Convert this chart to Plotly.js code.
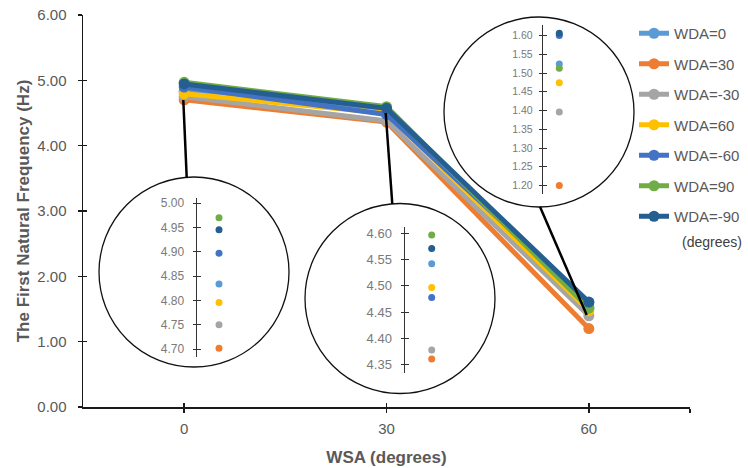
<!DOCTYPE html>
<html>
<head>
<meta charset="utf-8">
<script src="https://cdn.plot.ly/plotly-3.0.1.min.js"></script>
<style>html,body{margin:0;padding:0;background:#fff;}#chart{width:748px;height:468px;}</style>
</head>
<body>
<div id="chart"></div>
<script>
// ---- data ----
const wsa = [0, 30, 60];
const seriesNames = ['WDA=0', 'WDA=30', 'WDA=-30', 'WDA=60', 'WDA=-60', 'WDA=90', 'WDA=-90'];
const wda0   = [4.834, 4.542, 1.524];
const wda30  = [4.702, 4.361, 1.200];
const wdaM30 = [4.750, 4.378, 1.396];
const wda60  = [4.796, 4.497, 1.474];
const wdaM60 = [4.897, 4.478, 1.600];
const wda90  = [4.970, 4.597, 1.513];
const wdaM90 = [4.945, 4.571, 1.606];
const seriesValues = [wda0, wda30, wdaM30, wda60, wdaM60, wda90, wdaM90];
const colors = ['#5B9BD5', '#ED7D31', '#A5A5A5', '#FFC000', '#4472C4', '#70AD47', '#255E91'];
const xTickVals = [0, 30, 60, 75];
const xTickText = ['0', '30', '60', ''];

// ---- geometry helpers (pixel -> paper) ----
const L = 83, R = 690, T = 15, B = 407;
const W = R - L, H = B - T;
const px = p => (p - L) / W;
const py = p => (B - p) / H;

const FONT = 'Liberation Sans, Arial, Helvetica, sans-serif';
const GREY = '#595959';

const traces = [];
seriesNames.forEach((name, i) => {
  traces.push({
    type: 'scatter', mode: 'lines+markers', name: name,
    x: wsa, y: seriesValues[i], xaxis: 'x', yaxis: 'y',
    line: {color: colors[i], width: 5},
    marker: {color: colors[i], size: 11},
    legendgroup: 'g' + i
  });
});

// insets: one per WSA category
const insets = [
  {idx: 0, axisX: 197, dotsX: 241, top: 198, bottom: 357, range: [4.684, 5.0103], t0: 4.70, fs: 12, stand: 6},
  {idx: 1, axisX: 405, dotsX: 458.4, top: 226.7, bottom: 372.7, range: [4.3347, 4.6126], t0: 4.35, fs: 13, stand: 6},
  {idx: 2, axisX: 543.3, dotsX: 575.3, top: 25, bottom: 194, range: [1.1774, 1.628], t0: 1.20, fs: 10.5, stand: 4}
];

const layout = {
  width: 748, height: 468,
  margin: {l: L, r: 748 - R, t: T, b: 468 - B, pad: 0, autoexpand: false},
  paper_bgcolor: '#ffffff', plot_bgcolor: 'rgba(0,0,0,0)',
  font: {family: FONT, color: GREY, size: 15},
  showlegend: true,
  legend: {
    x: px(634), y: py(17), xanchor: 'left', yanchor: 'top',
    font: {family: FONT, size: 15, color: GREY},
    bgcolor: 'rgba(0,0,0,0)', tracegroupgap: 8, traceorder: 'grouped'
  },
  xaxis: {
    domain: [0, 1], range: [-15, 75], tickvals: xTickVals, ticktext: xTickText,
    showline: true, linecolor: '#1a1a1a', linewidth: 1.5, ticks: 'outside', ticklen: 4, tickwidth: 1.5, tickcolor: '#1a1a1a',
    showgrid: false, zeroline: false, ticklabelstandoff: 3,
    tickfont: {family: FONT, size: 15, color: GREY},
    title: {text: 'WSA (degrees)', font: {family: FONT, size: 17, color: GREY, weight: 'bold'}, standoff: 15},
    automargin: false, fixedrange: true
  },
  yaxis: {
    domain: [0, 1], range: [0, 6], dtick: 1, tick0: 0, tickformat: '.2f',
    showline: true, linecolor: '#1a1a1a', linewidth: 1.5, ticks: 'outside', ticklen: 4, tickwidth: 1.5, tickcolor: '#1a1a1a',
    showgrid: false, zeroline: false, ticklabelstandoff: 8,
    tickfont: {family: FONT, size: 15, color: GREY},
    title: {text: 'The First Natural Frequency (Hz)', font: {family: FONT, size: 17, color: GREY, weight: 'bold'}, standoff: 3},
    automargin: false, fixedrange: true
  },
  // overlay axes to make the main ticks cross the axis lines
  xaxis8: {overlaying: 'x', anchor: 'y8', range: [-15, 75], tickvals: xTickVals, ticks: 'inside', ticklen: 4, tickwidth: 1.5, tickcolor: '#1a1a1a',
    showticklabels: false, showline: false, showgrid: false, zeroline: false, fixedrange: true},
  yaxis8: {overlaying: 'y', anchor: 'x8', range: [0, 6], dtick: 1, ticks: 'inside', ticklen: 4, tickwidth: 1.5, tickcolor: '#1a1a1a',
    showticklabels: false, showline: false, showgrid: false, zeroline: false, fixedrange: true},
  shapes: [],
  annotations: [{
    xref: 'paper', yref: 'paper', x: px(680), y: py(242), xanchor: 'left', yanchor: 'middle',
    text: '(degrees)', showarrow: false, font: {family: FONT, size: 14, color: '#404040'}
  }]
};
traces.push({type: 'scatter', mode: 'markers', x: [0], y: [0], xaxis: 'x8', yaxis: 'y8',
  marker: {opacity: 0}, showlegend: false, hoverinfo: 'skip'});

const circles = [
  {cx: 194, cy: 272, r: 95, from: [183.3, 100], to: [186.7, 177.3]},
  {cx: 400, cy: 298.5, r: 95, from: [385.7, 113], to: [392.3, 204]},
  {cx: 539, cy: 112, r: 95, from: [586.7, 315], to: [540, 206.7]}
];

insets.forEach((ins, k) => {
  const a = k + 2, o = k + 5;
  const xd = [px(ins.axisX), px(ins.dotsX)];
  const yd = [py(ins.bottom), py(ins.top)];
  layout['xaxis' + a] = {domain: xd, anchor: 'y' + a, range: [0, 2], visible: false, fixedrange: true};
  layout['yaxis' + a] = {domain: yd, anchor: 'x' + a, range: ins.range, tick0: ins.t0, dtick: 0.05, tickformat: '.2f',
    showline: true, linecolor: '#333333', linewidth: 1, ticks: 'outside', ticklen: 3.5, tickwidth: 1, tickcolor: '#333333',
    showgrid: false, zeroline: false, ticklabelstandoff: ins.stand,
    tickfont: {family: FONT, size: ins.fs, color: '#7a7a7a'}, fixedrange: true};
  layout['xaxis' + o] = {overlaying: 'x' + a, anchor: 'y' + o, range: [0, 2], visible: false, fixedrange: true};
  layout['yaxis' + o] = {overlaying: 'y' + a, anchor: 'x' + o, range: ins.range, tick0: ins.t0, dtick: 0.05,
    ticks: 'inside', ticklen: 3.5, tickwidth: 1, tickcolor: '#333333', showticklabels: false, showline: false,
    showgrid: false, zeroline: false, fixedrange: true};
  seriesNames.forEach((name, i) => {
    traces.push({type: 'scatter', mode: 'markers', x: [1], y: [seriesValues[i][ins.idx]],
      xaxis: 'x' + a, yaxis: 'y' + a, marker: {color: colors[i], size: 7}, showlegend: false, hoverinfo: 'skip', cliponaxis: false});
  });
  traces.push({type: 'scatter', mode: 'markers', x: [0], y: [ins.range[0]], xaxis: 'x' + o, yaxis: 'y' + o,
    marker: {opacity: 0}, showlegend: false, hoverinfo: 'skip'});
});

circles.forEach(c => {
  layout.shapes.push({type: 'circle', xref: 'paper', yref: 'paper', layer: 'above',
    x0: px(c.cx - c.r), x1: px(c.cx + c.r), y0: py(c.cy + c.r), y1: py(c.cy - c.r),
    line: {color: '#111111', width: 1.3}, fillcolor: 'rgba(0,0,0,0)'});
  layout.shapes.push({type: 'line', xref: 'paper', yref: 'paper', layer: 'above',
    x0: px(c.from[0]), y0: py(c.from[1]), x1: px(c.to[0]), y1: py(c.to[1]),
    line: {color: '#000000', width: 2.5}});
});

Plotly.newPlot('chart', traces, layout, {staticPlot: true, displayModeBar: false});
</script>
</body>
</html>
